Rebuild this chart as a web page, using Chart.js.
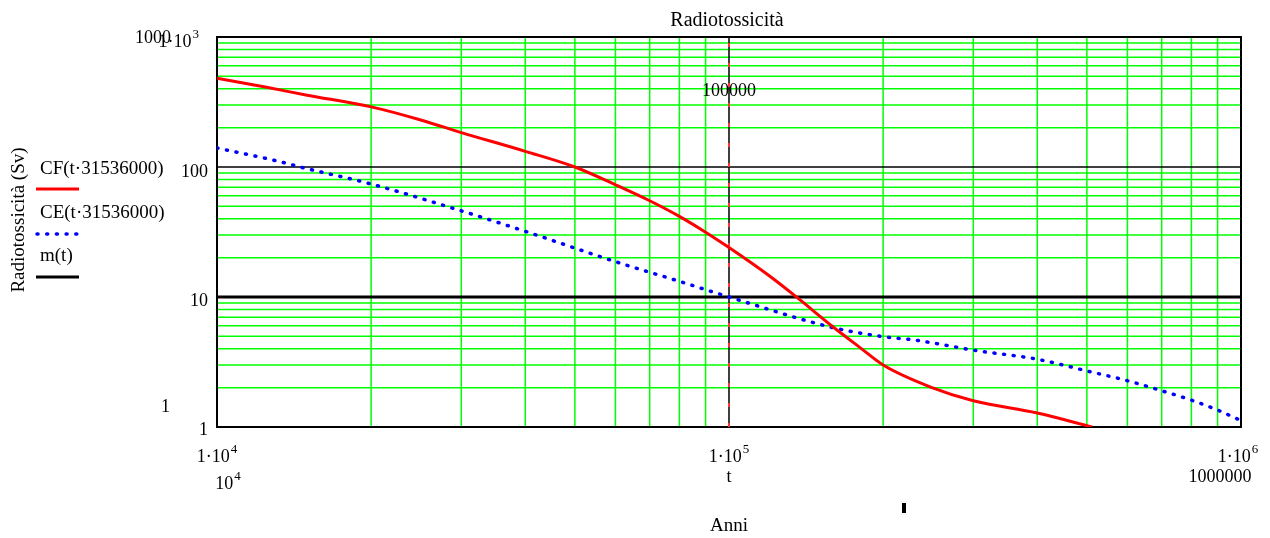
<!DOCTYPE html>
<html><head><meta charset="utf-8">
<script src="https://cdn.jsdelivr.net/npm/chart.js@4"></script>
<style>html,body{margin:0;padding:0;background:#fff}#wrap{position:relative;width:1270px;height:538px}</style>
</head><body><div id="wrap"><canvas id="c" width="1270" height="538"></canvas></div>
<script>
// ---- data ----
const yearsCF  = [10000, 12500, 15000, 20000, 25000, 30000, 40000, 50000, 60000, 70000, 80000, 90000, 100000, 120000, 135000, 160000, 180000, 200000, 250000, 300000, 400000, 512000];
const valuesCF = [481,   410,   357,   290,   230,   184,   132,   100,   73,    55,    41.7,  31.5,  24,     14.5,   10.1,   5.85,   4.1,    3.0,    2.0,    1.59,   1.28,   1.0];
const yearsCE  = [10000, 13000, 15000, 20000, 30000, 40000, 60000, 80000, 100000, 160000, 200000, 230000, 300000, 400000, 500000, 600000, 700000, 800000, 900000, 1000000];
const valuesCE = [140,   112,   97,    74,    46,    32,    18.7,  13.2,  10,     5.8,    4.95,   4.67,   3.9,    3.32,   2.7,    2.27,   1.9,    1.61,   1.35,   1.12];
const yearsM   = [10000, 1000000];
const valuesM  = [10, 10];
const markerYears  = [100000, 100000];
const markerValues = [1, 1000];
const xRange = [10000, 1000000];
const yRange = [1, 1000];
const legendLabels = ['CF(t·31536000)', 'CE(t·31536000)', 'm(t)'];
const titleText = 'Radiotossicità';
const yTitle = 'Radiotossicità (Sv)';
const xTitle = 'Anni';

const pts = (xs, ys) => xs.map((x, i) => ({x: x, y: ys[i]}));
const FONT = '"Liberation Serif", "DejaVu Serif", serif';

function minorValues(lo, hi) {
  const out = [];
  for (let d = lo; d < hi; d *= 10) for (let k = 2; k <= 9; k++) out.push(k * d);
  return out;
}
function supText(ctx, base, sup, x, y, align) {
  ctx.font = '18px ' + FONT;
  const wb = ctx.measureText(base).width;
  ctx.font = '13px ' + FONT;
  const ws = ctx.measureText(sup).width;
  const total = wb + ws + 1;
  let sx = x;
  if (align === 'center') sx = x - total / 2;
  else if (align === 'right') sx = x - total;
  ctx.textAlign = 'left';
  ctx.font = '18px ' + FONT;
  ctx.fillText(base, sx, y);
  ctx.font = '13px ' + FONT;
  ctx.fillText(sup, sx + wb + 1, y - 9);
}
function txt(ctx, s, x, y, align, size) {
  ctx.font = (size || 18) + 'px ' + FONT;
  ctx.textAlign = align || 'left';
  ctx.fillText(s, x, y);
}

const decor = {
  id: 'decor',
  beforeDatasetsDraw(chart) {
    const {ctx, chartArea: a} = chart;
    const xs = chart.scales.x, ys = chart.scales.y;
    ctx.save();
    ctx.lineWidth = 1.5;
    ctx.strokeStyle = '#00ff00';
    ctx.beginPath();
    minorValues(xRange[0], xRange[1]).forEach(v => {
      const p = xs.getPixelForValue(v);
      ctx.moveTo(p, a.top); ctx.lineTo(p, a.bottom);
    });
    minorValues(yRange[0], yRange[1]).forEach(v => {
      const p = ys.getPixelForValue(v);
      ctx.moveTo(a.left, p); ctx.lineTo(a.right, p);
    });
    ctx.stroke();
    // decade lines
    ctx.strokeStyle = '#000';
    ctx.lineWidth = 1.5;
    ctx.beginPath();
    const px = xs.getPixelForValue(100000);
    ctx.moveTo(px, a.top); ctx.lineTo(px, a.bottom);
    const py = ys.getPixelForValue(100);
    ctx.moveTo(a.left, py); ctx.lineTo(a.right, py);
    ctx.stroke();
    // frame
    ctx.lineWidth = 2;
    ctx.strokeRect(a.left, a.top, a.right - a.left, a.bottom - a.top);
    ctx.restore();
  },
  afterDraw(chart) {
    const {ctx} = chart;
    const xs = chart.scales.x, ys = chart.scales.y;
    ctx.save();
    ctx.fillStyle = '#000';
    ctx.textBaseline = 'alphabetic';
    // title
    txt(ctx, titleText, xs.getPixelForValue(100000) - 2, 26, 'center', 20);
    // marker label
    txt(ctx, '100000', xs.getPixelForValue(markerYears[0]), 96, 'center');
    // y axis labels
    txt(ctx, '1000', 135, 43, 'left');
    supText(ctx, '1·10', '3', 199, 47, 'right');
    txt(ctx, '100', 208, ys.getPixelForValue(100) + 10, 'right');
    txt(ctx, '10', 208, ys.getPixelForValue(10) + 9, 'right');
    txt(ctx, '1', 170, 412, 'right');
    txt(ctx, '1', 208, ys.getPixelForValue(1) + 8, 'right');
    // x axis labels
    supText(ctx, '1·10', '4', xs.getPixelForValue(10000), 462, 'center');
    supText(ctx, '10', '4', xs.getPixelForValue(10000) + 11, 489, 'center');
    supText(ctx, '1·10', '5', xs.getPixelForValue(100000), 462, 'center');
    txt(ctx, 't', xs.getPixelForValue(100000), 482, 'center');
    supText(ctx, '1·10', '6', xs.getPixelForValue(1000000) - 3, 462, 'center');
    txt(ctx, '1000000', xs.getPixelForValue(1000000) - 21, 482, 'center');
    txt(ctx, xTitle, xs.getPixelForValue(100000), 531, 'center', 19);
    ctx.fillRect(902, 503, 4, 10);
    // y title
    ctx.save();
    ctx.translate(24, 220);
    ctx.rotate(-Math.PI / 2);
    txt(ctx, yTitle, 0, 0, 'center', 19);
    ctx.restore();
    // legend
    txt(ctx, legendLabels[0], 40, 174, 'left', 19);
    txt(ctx, legendLabels[1], 40, 218, 'left', 19);
    txt(ctx, legendLabels[2], 40, 261, 'left', 19);
    ctx.lineWidth = 3;
    ctx.strokeStyle = '#ff0000';
    ctx.beginPath(); ctx.moveTo(36, 189); ctx.lineTo(79, 189); ctx.stroke();
    ctx.strokeStyle = '#000';
    ctx.beginPath(); ctx.moveTo(36, 277); ctx.lineTo(79, 277); ctx.stroke();
    ctx.strokeStyle = '#0000ff';
    ctx.lineWidth = 3.5;
    ctx.lineCap = 'round';
    ctx.setLineDash([1, 8.7]);
    ctx.beginPath(); ctx.moveTo(37, 234); ctx.lineTo(79, 234); ctx.stroke();
    ctx.restore();
  }
};

new Chart(document.getElementById('c'), {
  type: 'line',
  data: {
    datasets: [
      { label: legendLabels[0], data: pts(yearsCF, valuesCF), borderColor: '#ff0000', borderWidth: 3,
        pointRadius: 0, fill: false, cubicInterpolationMode: 'monotone' },
      { label: legendLabels[1], data: pts(yearsCE, valuesCE), borderColor: '#0000ff', borderWidth: 3.5,
        borderDash: [1, 8.7], borderCapStyle: 'round', pointRadius: 0, fill: false, cubicInterpolationMode: 'monotone' },
      { label: legendLabels[2], data: pts(yearsM, valuesM), borderColor: '#000000', borderWidth: 3,
        pointRadius: 0, fill: false },
      { label: 'marker', data: pts(markerYears, markerValues), borderColor: '#ff3030', borderWidth: 2,
        borderDash: [4, 16], pointRadius: 0, fill: false }
    ]
  },
  options: {
    responsive: false,
    animation: false,
    devicePixelRatio: 1,
    layout: { padding: { left: 217, right: 29, top: 37, bottom: 111 } },
    plugins: { legend: { display: false }, tooltip: { enabled: false }, title: { display: false } },
    scales: {
      x: {
        type: 'logarithmic', min: xRange[0], max: xRange[1],
        ticks: { display: false },
        border: { display: false },
        grid: { display: false, drawTicks: false }
      },
      y: {
        type: 'logarithmic', min: yRange[0], max: yRange[1],
        ticks: { display: false },
        border: { display: false },
        grid: { display: false, drawTicks: false }
      }
    }
  },
  plugins: [decor]
});
</script>
</body></html>
